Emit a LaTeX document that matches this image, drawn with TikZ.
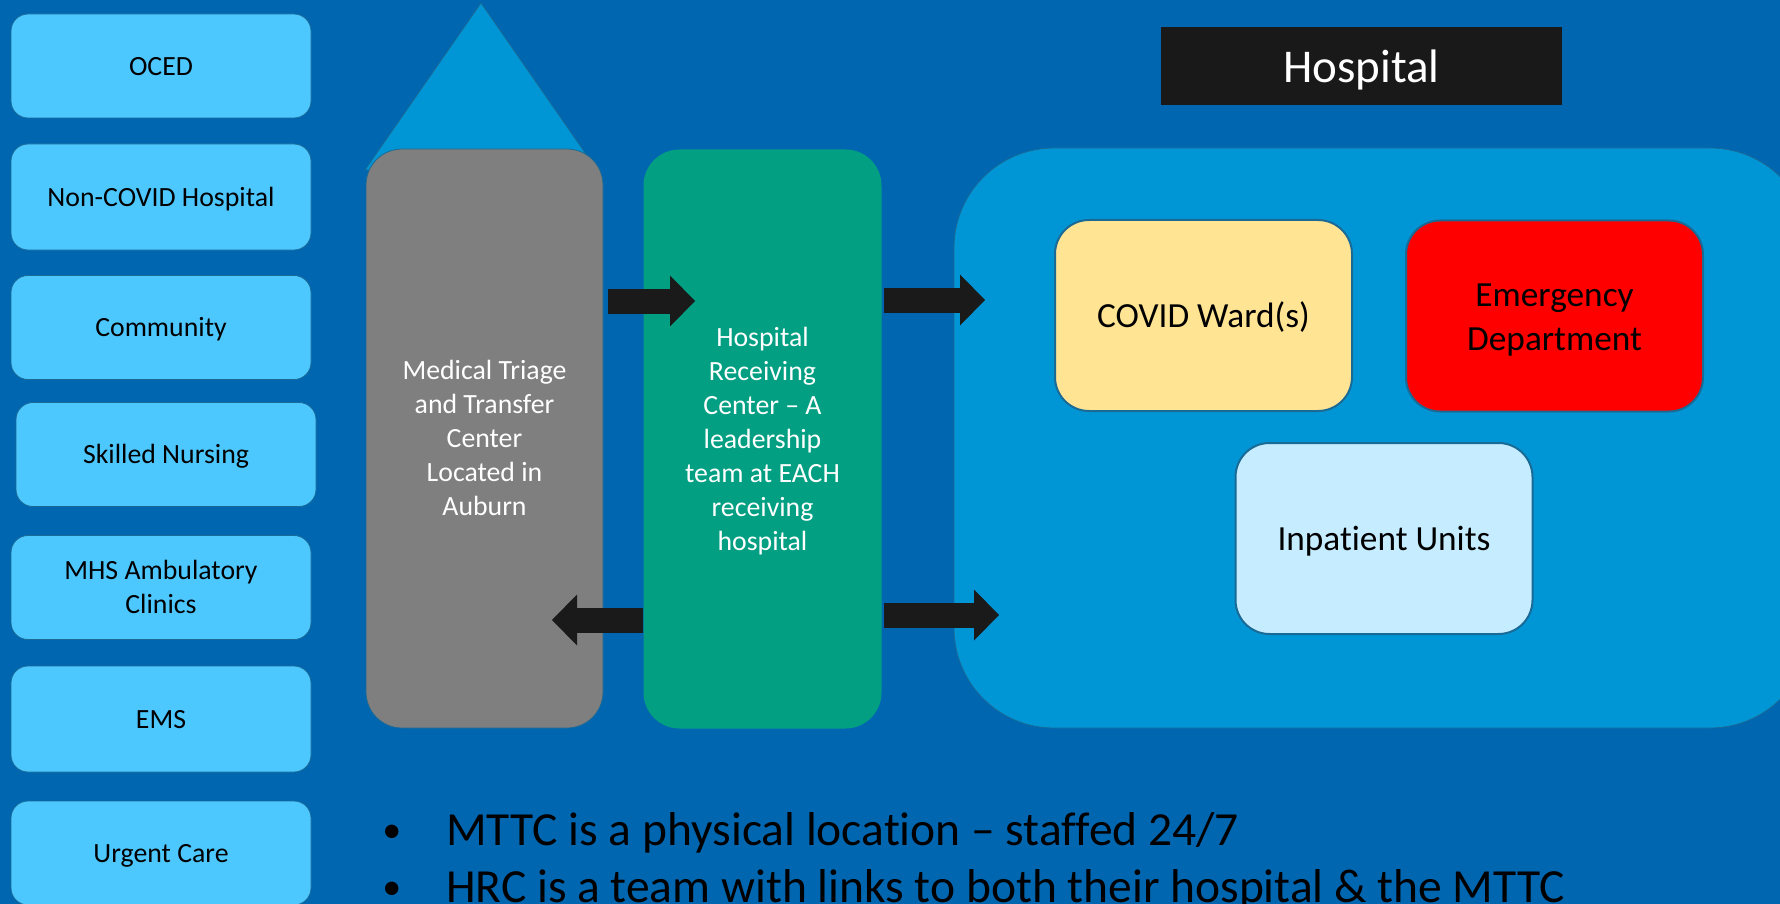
\documentclass[tikz,border=0pt]{standalone}
\usepackage{fontspec}
\setmainfont{Carlito}[Ligatures={TeX,NoCommon}]
\usepackage{tikz}
\usetikzlibrary{positioning, arrows.meta}

\definecolor{bgblue}{RGB}{0,102,176}
\definecolor{srcblue}{RGB}{77,200,255}
\definecolor{hospblue}{RGB}{0,150,214}
\definecolor{edgeblue}{RGB}{26,106,150}
\definecolor{mttcgray}{RGB}{127,127,127}
\definecolor{hrcgreen}{RGB}{2,159,130}
\definecolor{wardyellow}{RGB}{255,228,148}
\definecolor{unitblue}{RGB}{197,236,255}
\definecolor{arrowblack}{RGB}{26,26,26}

% line box as a slide program sets it
\newcommand{\pptstrut}{\rule[-0.269em]{0pt}{1.221em}}
\newcommand{\notedot}{\llap{\raisebox{3pt}{\fontsize{38}{38}\selectfont •}\hspace{45pt}}}

\tikzset{
  srcbox/.style={rectangle, rounded corners=17pt, fill=srcblue, draw=edgeblue, line width=0.8pt,
    minimum width=300pt, minimum height=104pt, align=center, text=black,
    font=\fontsize{27.8}{34}\selectfont},
  tallbox/.style={rectangle, rounded corners=36pt, draw=edgeblue, line width=0.8pt,
    minimum width=238pt, minimum height=579pt, align=center, text=white,
    font=\fontsize{27.8}{34}\selectfont},
  unitbox/.style={rectangle, rounded corners=34pt, draw=edgeblue, line width=2pt,
    minimum width=297pt, minimum height=191pt, align=center, text=black,
    font=\fontsize{35.3}{43}\selectfont},
  blockarrow/.style={draw=arrowblack, line width=25pt,
    -{Triangle[length=25pt,width=51pt,line width=0pt]}},
  bullet/.style={anchor=base west, inner sep=0pt, text=black,
    font=\fontsize{47.5}{57}\selectfont}
}

\begin{document}
\begin{tikzpicture}[x=1pt,y=-1pt]
        \clip (0,0) rectangle (1780,904);
        \fill[bgblue] (0,0) rectangle (1780,904);
        % Sources on the left
        \node[srcbox] (oced) at (161,66) {\pptstrut OCED};
        \node[srcbox, minimum height=106pt] (noncovid) at (161,197) {\pptstrut Non-COVID Hospital};
        \node[srcbox] (community) at (161,327.5) {\pptstrut Community};
        \node[srcbox] (snf) at (166,454.5) {\pptstrut Skilled Nursing};
        \node[srcbox] (mhs) at (161,587.5) {\pptstrut MHS Ambulatory\\Clinics\pptstrut};
        \node[srcbox, minimum height=106pt] (ems) at (161,719) {\pptstrut EMS};
        \node[srcbox] (urgent) at (161,853) {\pptstrut Urgent Care};
        % Triage center with its point
        \filldraw[fill=hospblue, draw=edgeblue, line width=0.8pt] (365,170) -- (481,3) -- (597,170) -- cycle;
        \node[tallbox, fill=mttcgray, minimum width=237pt] (mttc) at (484.5,438.5)
            {\pptstrut Medical Triage\\and Transfer\\Center\\Located in\\Auburn\pptstrut};
        \node[tallbox, fill=hrcgreen, draw=none] (hrc) at (762.5,439)
            {\pptstrut Hospital\\Receiving\\Center – A\\leadership\\team at EACH\\receiving\\hospital\pptstrut};
        % Hospital
        \node[rectangle, rounded corners=100pt, fill=hospblue, draw=edgeblue, line width=0.8pt,
            minimum width=856pt, minimum height=580pt] (hosp) at (1382,438) {};
        \node[rectangle, fill=arrowblack!95!black, text=white, minimum width=401pt, minimum height=78pt,
            font=\fontsize{47}{56}\selectfont] (title) at (1361.5,66) {\pptstrut Hospital};
        \node[unitbox, fill=wardyellow] (ward) at (1203.5,315.5) {\pptstrut COVID Ward(s)};
        \node[unitbox, fill=red] (ed) at (1554.5,316) {\pptstrut Emergency\\Department\pptstrut};
        \node[unitbox, fill=unitblue] (inpat) at (1384,538.5) {\pptstrut Inpatient Units};
        % Arrows
        \coordinate (t1) at (695,301);
        \coordinate (t2) at (552,620);
        \coordinate (t3) at (985,300);
        \coordinate (t4) at (999,615);
        \draw[blockarrow, shorten <=5pt] (mttc.east |- t1) -- (t1);
        \draw[blockarrow] (hrc.west |- t2) -- (t2);
        \draw[blockarrow, shorten <=2pt] (hrc.east |- t3) -- (t3);
        \draw[blockarrow, shorten <=2pt] (hrc.east |- t4) -- (t4);
        % Notes
        \node[bullet] (note1) at (446,845) {\notedot MTTC is a physical location – staffed 24/7};
        \node[bullet] (note2) at (446,902) {\notedot HRC is a team with links to both their hospital \& the MTTC};
    \end{tikzpicture}
\end{document}
